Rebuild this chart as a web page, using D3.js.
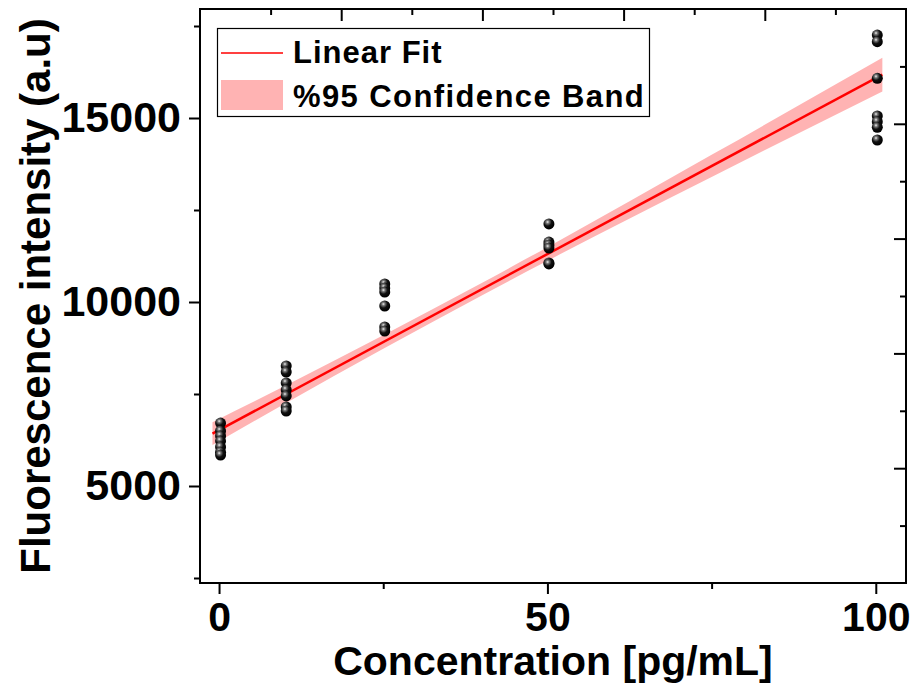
<!DOCTYPE html>
<html>
<head>
<meta charset="utf-8">
<script src="https://cdn.jsdelivr.net/npm/d3@7/dist/d3.min.js"></script>
<style>
html,body{margin:0;padding:0;background:#fff;}
svg{display:block;}
text{font-family:"Liberation Sans",Arial,sans-serif;font-weight:bold;fill:#000;}
</style>
</head>
<body>
<svg id="chart" width="917" height="686"></svg>
<script>
// ---- data ----
const conc0 = [6710, 6495, 6360, 6220, 6060, 5920, 5840];
const conc10 = [8261, 8098, 7799, 7609, 7446, 7147, 7038];
const conc25 = [10489, 10380, 10272, 9891, 9321, 9212];
const conc50 = [12120, 11630, 11549, 11467, 11060, 11033];
const conc100 = [17255, 17073, 16079, 15054, 14900, 14747, 14402];
const concentrations = [0, 10, 25, 50, 100];
const fitX = [-1, 101];
const fitY = [6425, 16180];
const bandX = [-1, 10, 25, 40, 50, 75, 101];
const bandLower = [6115, 7237, 8728, 10178, 11120, 13398, 15720];
const bandUpper = [6735, 7717, 9098, 10518, 11490, 13998, 16640];
const xTicks = [0, 50, 100];
const xMinorTicks = [25, 75];
const yTicks = [5000, 10000, 15000];
const yMinorTicks = [2500, 7500, 12500, 17500];
const auxMajor = [2, 4, 6, 8];
const auxMinor = [1, 3, 5, 7, 9];
const legendLabels = ["Linear Fit", "%95 Confidence Band"];
const xTitle = "Concentration [pg/mL]";
const yTitle = "Fluorescence intensity (a.u)";

const groups = [conc0, conc10, conc25, conc50, conc100];
const points = [];
groups.forEach((g, i) => g.forEach(v => points.push({x: concentrations[i], y: v})));

// ---- layout ----
const L = 200, R = 906, T = 9, B = 583;
const svg = d3.select("#chart");
const x = d3.scaleLinear().domain([-2.9, 104.6]).range([L, R]);
const y = d3.scaleLinear().domain([2364, 17962]).range([B, T]);
const xAux = d3.scaleLinear().domain([0, 10]).range([L, R]);
const yAux = d3.scaleLinear().domain([0, 10]).range([B, T]);

const defs = svg.append("defs");
const grad = defs.append("radialGradient").attr("id", "ball")
  .attr("cx", "38%").attr("cy", "32%").attr("r", "65%");
grad.append("stop").attr("offset", "0%").attr("stop-color", "#f0f0f0");
grad.append("stop").attr("offset", "22%").attr("stop-color", "#777");
grad.append("stop").attr("offset", "55%").attr("stop-color", "#111");
grad.append("stop").attr("offset", "100%").attr("stop-color", "#000");
defs.append("clipPath").attr("id", "clip").append("rect")
  .attr("x", L).attr("y", T).attr("width", R - L).attr("height", B - T);

// ---- band ----
const bandData = bandX.map((v, i) => ({x: v, lo: bandLower[i], hi: bandUpper[i]}));
svg.append("path").datum(bandData)
  .attr("clip-path", "url(#clip)")
  .attr("fill", "#ffb3b3")
  .attr("d", d3.area().curve(d3.curveMonotoneX).x(d => x(d.x)).y0(d => y(d.lo)).y1(d => y(d.hi)));

// ---- fit line ----
svg.append("path").datum(fitX.map((v, i) => ({x: v, y: fitY[i]})))
  .attr("fill", "none").attr("stroke", "#ff0000").attr("stroke-width", 2.5)
  .attr("d", d3.line().x(d => x(d.x)).y(d => y(d.y)));

// ---- points ----
svg.append("g").selectAll("circle").data(points).join("circle")
  .attr("cx", d => x(d.x) + 1.5).attr("cy", d => y(d.y)).attr("r", 5.5)
  .attr("fill", "url(#ball)");

// ---- frame ----
svg.append("rect").attr("x", L).attr("y", T).attr("width", R - L).attr("height", B - T)
  .attr("fill", "none").attr("stroke", "#000").attr("stroke-width", 2);

// bottom axis
const gx = svg.append("g").attr("transform", `translate(0,${B})`);
gx.call(d3.axisBottom(x).tickValues(xTicks).tickSize(11).tickPadding(8).tickFormat(d3.format("d")));
gx.append("g").call(d3.axisBottom(x).tickValues(xMinorTicks).tickSize(6).tickFormat(""));
gx.selectAll(".domain").remove();
gx.selectAll("line").attr("stroke", "#000").attr("stroke-width", 2);
gx.selectAll("text").style("font-size", "41px").style("font-family", "Liberation Sans, Arial, sans-serif").style("font-weight", "bold").attr("fill", "#000");

// left axis
const gy = svg.append("g").attr("transform", `translate(${L},0)`);
gy.call(d3.axisLeft(y).tickValues(yTicks).tickSize(11).tickPadding(8).tickFormat(d3.format("d")));
gy.append("g").call(d3.axisLeft(y).tickValues(yMinorTicks.filter(v => v > 2364 && v < 17962)).tickSize(6).tickFormat(""));
gy.selectAll(".domain").remove();
gy.selectAll("line").attr("stroke", "#000").attr("stroke-width", 2);
gy.selectAll("text").style("font-size", "43px").style("font-family", "Liberation Sans, Arial, sans-serif").style("font-weight", "bold").attr("fill", "#000");

// top axis (inward ticks)
const gt = svg.append("g").attr("transform", `translate(0,${T})`);
gt.call(d3.axisBottom(xAux).tickValues(auxMajor).tickSize(12).tickFormat(""));
gt.append("g").call(d3.axisBottom(xAux).tickValues(auxMinor).tickSize(6).tickFormat(""));
gt.selectAll(".domain").remove();
gt.selectAll("line").attr("stroke", "#000").attr("stroke-width", 2);

// right axis (inward ticks)
const gr = svg.append("g").attr("transform", `translate(${R},0)`);
gr.call(d3.axisLeft(yAux).tickValues(auxMajor).tickSize(12).tickFormat(""));
gr.append("g").call(d3.axisLeft(yAux).tickValues(auxMinor).tickSize(6).tickFormat(""));
gr.selectAll(".domain").remove();
gr.selectAll("line").attr("stroke", "#000").attr("stroke-width", 2);

// ---- titles ----
svg.append("text").attr("x", (L + R) / 2).attr("y", 675).attr("text-anchor", "middle")
  .style("font-size", "41px").text(xTitle);
svg.append("text").attr("transform", `translate(50,${(T + B) / 2}) rotate(-90)`)
  .attr("text-anchor", "middle").style("font-size", "42px").text(yTitle);

// ---- legend ----
const lg = svg.append("g");
lg.append("rect").attr("x", 217.5).attr("y", 28.5).attr("width", 432).attr("height", 88)
  .attr("fill", "#fff").attr("stroke", "#000").attr("stroke-width", 1.2);
lg.append("line").attr("x1", 221).attr("x2", 283).attr("y1", 53).attr("y2", 53)
  .attr("stroke", "#ff0000").attr("stroke-width", 1.5);
lg.append("rect").attr("x", 221).attr("y", 80).attr("width", 62).attr("height", 30).attr("fill", "#ffb3b3");
lg.append("text").attr("x", 293).attr("y", 63).style("font-size", "31px").style("letter-spacing", "1px").text(legendLabels[0]);
lg.append("text").attr("x", 293).attr("y", 107).style("font-size", "31px").style("letter-spacing", "1.4px").text(legendLabels[1]);
</script>
</body>
</html>
